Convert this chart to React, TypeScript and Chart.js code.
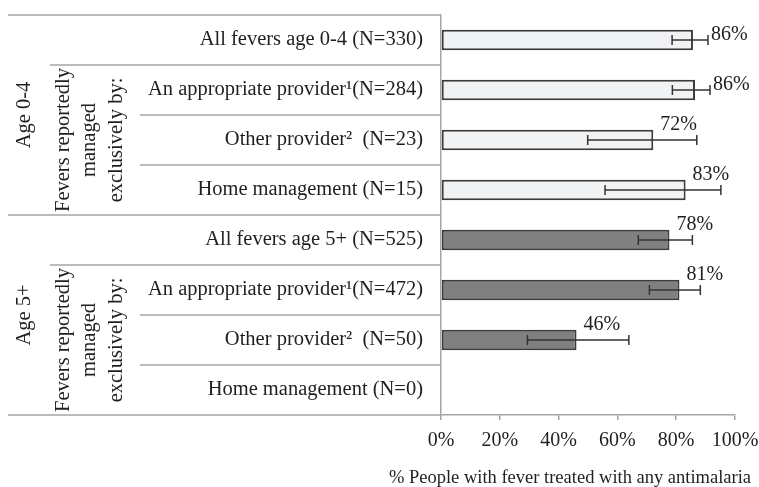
import React, { useEffect, useRef } from "react";
import { Chart, registerables } from "chart.js";

Chart.register(...registerables);

const categories = [
  "All fevers age 0-4 (N=330)",
  "An appropriate provider¹(N=284)",
  "Other provider²  (N=23)",
  "Home management (N=15)",
  "All fevers age 5+ (N=525)",
  "An appropriate provider¹(N=472)",
  "Other provider²  (N=50)",
  "Home management (N=0)",
];
const values: (number | null)[] = [85.7, 86.4, 72.2, 83.2, 77.7, 81.1, 46.1, null];
const errLow: (number | null)[] = [78.6, 78.7, 49.9, 55.8, 67.1, 70.9, 29.4, null];
const errHigh: (number | null)[] = [90.8, 91.5, 87.0, 95.2, 85.5, 88.2, 63.9, null];
const groupOf = [0, 0, 0, 0, 1, 1, 1, 1];
const groupLabels = ["Age 0-4", "Age 5+"];
const subGroupLines = ["Fevers reportedly", "managed", "exclusively by:"];
const xTicks = [0, 20, 40, 60, 80, 100];
const axisTitle = "% People with fever treated with any antimalaria";

const FONT = "'Liberation Serif', 'Times New Roman', serif";
const GRID = "#a6a6a6";
const TEXT = "#1f1f1f";

const tablePlugin = {
  id: "tablePlugin",
  afterDraw(chart: any) {
    const { ctx, chartArea } = chart;
    const y = chart.scales.y;
    const n = categories.length;
    const rowH = Math.abs(y.getPixelForValue(1) - y.getPixelForValue(0));
    ctx.save();
    ctx.strokeStyle = GRID;
    ctx.lineWidth = 1.5;
    for (let b = 0; b <= n; b++) {
      const py = Math.round(y.getPixelForValue(b) - rowH / 2);
      let sx = 140;
      if (b % 4 === 0) sx = 8;
      else if (b % 4 === 1) sx = 50;
      ctx.beginPath();
      ctx.moveTo(sx, py);
      ctx.lineTo(chartArea.left, py);
      ctx.stroke();
    }
    ctx.fillStyle = TEXT;
    ctx.font = `20.5px ${FONT}`;
    ctx.textAlign = "center";
    ctx.textBaseline = "middle";
    groupLabels.forEach((g, gi) => {
      const idx = categories.map((_, i) => i).filter((i) => groupOf[i] === gi);
      const top = y.getPixelForValue(idx[0]) - rowH / 2;
      const bot = y.getPixelForValue(idx[idx.length - 1]) + rowH / 2;
      ctx.save();
      ctx.translate(25, (top + bot) / 2);
      ctx.rotate(-Math.PI / 2);
      ctx.fillText(g, 0, 0);
      ctx.restore();
      const stop = y.getPixelForValue(idx[1]) - rowH / 2;
      ctx.save();
      ctx.translate(90, (stop + bot) / 2);
      ctx.rotate(-Math.PI / 2);
      subGroupLines.forEach((ln, li) => {
        ctx.fillText(ln, 0, (li - 1) * 26.5);
      });
      ctx.restore();
    });
    ctx.font = `18.5px ${FONT}`;
    ctx.textAlign = "center";
    ctx.fillText(axisTitle, 570, 478);
    ctx.restore();
  },
};

const errorPlugin = {
  id: "errorPlugin",
  afterDatasetsDraw(chart: any) {
    const { ctx } = chart;
    const x = chart.scales.x;
    const meta = chart.getDatasetMeta(0);
    ctx.save();
    meta.data.forEach((bar: any, i: number) => {
      const v = values[i];
      const lo = errLow[i];
      const hi = errHigh[i];
      if (v == null || lo == null || hi == null) return;
      const yc = bar.y;
      const xl = x.getPixelForValue(lo);
      const xh = x.getPixelForValue(hi);
      ctx.strokeStyle = "#333333";
      ctx.lineWidth = 1.5;
      ctx.beginPath();
      ctx.moveTo(xl, yc);
      ctx.lineTo(xh, yc);
      ctx.moveTo(xl, yc - 5);
      ctx.lineTo(xl, yc + 5);
      ctx.moveTo(xh, yc - 5);
      ctx.lineTo(xh, yc + 5);
      ctx.stroke();
      ctx.fillStyle = TEXT;
      ctx.font = `20px ${FONT}`;
      ctx.textBaseline = "middle";
      ctx.textAlign = "left";
      const label = Math.round(v) + "%";
      if (hi - v < 6) {
        ctx.fillText(label, xh + 3, yc - 5);
      } else {
        ctx.fillText(label, bar.x + 7, yc - 15);
      }
    });
    ctx.restore();
  },
};

export default function App() {
  const ref = useRef<HTMLCanvasElement | null>(null);
  useEffect(() => {
    document.body.style.margin = "0";
    if (!ref.current) return;
    const chart = new Chart(ref.current, {
      type: "bar",
      data: {
        labels: categories,
        datasets: [
          {
            data: values as any,
            backgroundColor: groupOf.map((g) => (g === 0 ? "#f1f2f4" : "#808080")),
            borderColor: "#3c3c3c",
            borderWidth: 2,
            borderSkipped: false,
            barPercentage: 0.41,
            categoryPercentage: 1,
          },
        ],
      },
      options: {
        indexAxis: "y",
        animation: false,
        responsive: true,
        maintainAspectRatio: false,
        layout: { padding: { top: 15, right: 24, left: 0, bottom: 0 } },
        plugins: { legend: { display: false }, tooltip: { enabled: false } },
        scales: {
          x: {
            min: 0,
            max: 100,
            afterFit: (s: any) => {
              s.height = 72;
              s.paddingLeft = 0;
              s.paddingRight = 0;
            },
            afterBuildTicks: (s: any) => {
              s.ticks = xTicks.map((v) => ({ value: v }));
            },
            ticks: {
              callback: (v: any) => v + "%",
              color: TEXT,
              font: { family: FONT, size: 20 },
              padding: 9,
              maxRotation: 0,
            },
            grid: {
              display: true,
              drawOnChartArea: false,
              drawTicks: true,
              tickLength: 5,
              color: GRID,
              lineWidth: 1.5,
            },
            border: { display: true, color: GRID, width: 1.5 },
          },
          y: {
            afterFit: (s: any) => {
              s.width = 441;
              s.paddingTop = 0;
              s.paddingBottom = 0;
            },
            ticks: {
              color: TEXT,
              font: { family: FONT, size: 20.5 },
              padding: 18,
            },
            grid: { display: false, drawTicks: false },
            border: { display: true, color: GRID, width: 1.5 },
          },
        },
      },
      plugins: [tablePlugin, errorPlugin],
    });
    return () => chart.destroy();
  }, []);
  return (
    <div style={{ width: 759, height: 487, position: "relative" }}>
      <canvas ref={ref} />
    </div>
  );
}
